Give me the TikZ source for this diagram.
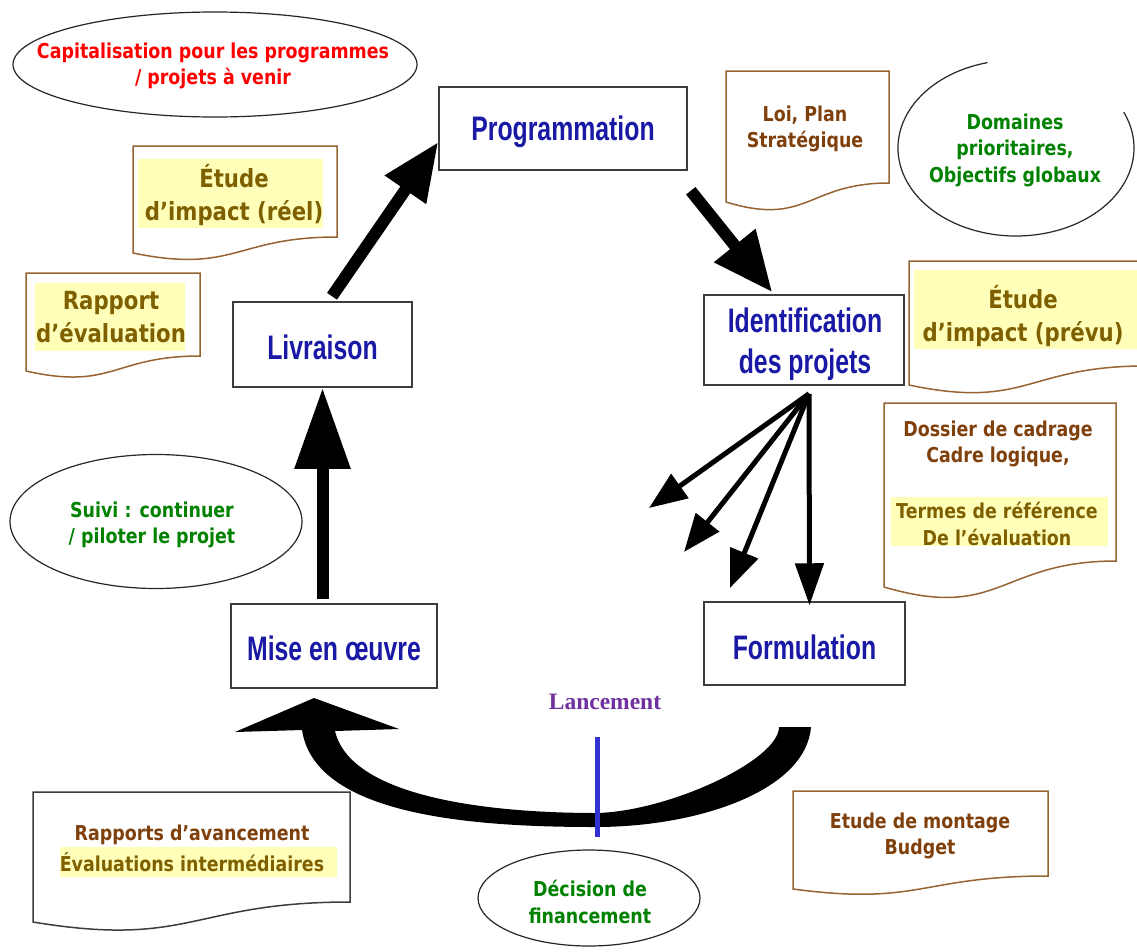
\documentclass[tikz,border=0pt]{standalone}
\usepackage{fontspec}
\usetikzlibrary{arrows.meta,calc}
\newfontfamily\tahf{DejaVu Sans}[FakeStretch=0.85]
\newfontfamily\narf{Liberation Sans}[FakeStretch=0.73]
\newfontfamily\serf{Liberation Serif}
\definecolor{navyt}{RGB}{25,25,165}
\definecolor{olivet}{RGB}{127,96,0}
\definecolor{rustt}{RGB}{128,64,12}
\definecolor{greent}{RGB}{0,130,0}
\definecolor{redt}{RGB}{255,0,0}
\definecolor{purplet}{RGB}{112,48,160}
\definecolor{bluel}{RGB}{50,50,210}
\definecolor{hilite}{RGB}{255,255,185}
\definecolor{docbrown}{RGB}{150,100,50}
\definecolor{boxgray}{RGB}{60,60,60}
\newcommand\docpath[6]{%
  \pgfmathsetmacro\dmid{(#1+#3)/2}%
  \pgfmathsetmacro\dctl{#5+1.31*(#5-#4)}%
  \draw[#6] (#1,#2) -- (#3,#2) -- (#3,#4) .. controls (\dmid,#4) and (\dmid,\dctl) .. (#1,#5) -- cycle;}
\tikzset{
  tah/.style={font=\tahf\bfseries\fontsize{20.5}{26.5}\selectfont, align=center, inner sep=0pt},
  tahbig/.style={font=\tahf\bfseries\fontsize{25}{33}\selectfont, align=center, inner sep=0pt},
  stage/.style={draw=boxgray, line width=1.5pt, fill=white, inner sep=0pt},
  stagetext/.style={text=navyt, align=center, inner sep=0pt,
    font=\narf\bfseries\fontsize{34}{41}\selectfont},
  docline/.style={draw=docbrown, line width=1.5pt, fill=white},
  docblack/.style={draw=boxgray, line width=1.5pt, fill=white},
  hl/.style={fill=hilite, draw=none},
  ell/.style={draw=black!85, line width=1.2pt},
  thick arrow/.style n args={2}{line width=12pt, draw=black, -{Triangle[length=#1,width=#2]}},
  fan arrow/.style={line width=5pt, draw=black, -{Triangle[length=38pt,width=29pt]}},
}
\begin{document}
\begin{tikzpicture}[x=1pt,y=-1pt]
\useasboundingbox (0,0) rectangle (1137,951);
\fill[white] (0,0) rectangle (1137,951);

% ---------- documents ----------
\docpath{133}{146}{337}{237}{253}{docline}
\fill[hl] (138,159) rectangle (323,228);
\node[tahbig, text=olivet] (etudereel) at (234,195) {Étude\\d’impact (réel)};

\docpath{26}{273}{200}{356}{371}{docline}
\fill[hl] (35,283) rectangle (185,351);
\node[tahbig, text=olivet] (rapeval) at (111,317) {Rapport\\d’évaluation};

\docpath{726}{71}{889}{183}{202}{docline}
\node[tah, text=rustt] (loi) at (805,129) {Loi, Plan\\Stratégique};

\docpath{909}{261}{1145}{366}{385}{docline}
\fill[hl] (914,270) rectangle (1137,349);
\node[tahbig, text=olivet] (etudeprevu) at (1023,316) {Étude\\d’impact (prévu)};

\docpath{884}{403}{1116}{561}{587}{docline}
\node[tah, text=rustt] (dossier) at (998,444) {Dossier de cadrage\\Cadre logique,};
\fill[hl] (891,497) rectangle (1108,546);
\node[tah, text=olivet] (termes) at (997,524) {Termes de référence\\De l’évaluation};

\docpath{33}{792}{350}{902}{922}{docblack}
\node[tah, text=rustt] (rapports) at (192,835) {Rapports d’avancement};
\fill[hl] (60,847) rectangle (337,877);
\node[tah, text=olivet] (evalint) at (192,862) {Évaluations intermédiaires};

\docpath{793}{791}{1048}{876}{889}{docline}
\node[tah, text=rustt] (montage) at (920,836) {Etude de montage\\Budget};

% ---------- ellipses ----------
\draw[ell] (215,64.5) ellipse [x radius=202, y radius=52.5];
\node[tah, text=redt] (capital) at (213,66) {Capitalisation pour les programmes\\/ projets à venir};

\draw[ell] (987.45,62.61) arc[start angle=-104, end angle=-384, x radius=118, y radius=88];
\node[tah, text=greent] (domaines) at (1015,150) {Domaines\\prioritaires,\\Objectifs globaux};

\draw[ell] (156,521.5) ellipse [x radius=146, y radius=67];
\node[tah, text=greent] (suivi) at (152,525) {Suivi : continuer\\/ piloter le projet};

\draw[ell] (589,898) ellipse [x radius=111, y radius=48];
\node[tah, text=greent] (decision) at (590,902) {Décision de\\financement};

% ---------- stage boxes ----------
\node[stage, minimum width=248pt, minimum height=83pt] (prog) at (563,128.5) {};
\node[stagetext] (progt) at ($(prog)+(0,3)$) {Programmation};
\node[stage, minimum width=200pt, minimum height=90pt] (ident) at (804,340) {};
\node[stagetext] (identt) at ($(ident)+(1,4)$) {Identification\\des projets};
\node[stage, minimum width=201pt, minimum height=83pt] (form) at (804.5,643.5) {};
\node[stagetext] (formt) at ($(form)+(0,3.5)$) {Formulation};
\node[stage, minimum width=206pt, minimum height=84pt] (mise) at (334,646) {};
\node[stagetext] (miset) at ($(mise)+(0,2.5)$) {Mise en œuvre};
\node[stage, minimum width=179pt, minimum height=85pt] (livr) at (322.5,344.5) {};
\node[stagetext] (livrt) at ($(livr)+(0,3)$) {Livraison};

% ---------- arrows ----------
\draw[thick arrow={81pt}{53pt}] ($(livr.south |- mise.north)+(0,-4)$) -- (livr.south);
\draw[thick arrow={58pt}{47pt}] ($(livr.north)+(9.5,-5)$) -- ($(prog.south west)!0.34!(prog.north west)$);
\draw[thick arrow={60pt}{50pt}] ($(prog.south east)+(3,20)$) -- ($(ident.north west)+(69,-2)$);

\coordinate (fo) at ($(ident.south)+(5,8)$);
\coordinate (f1) at (649,508);
\coordinate (f2) at (684,552);
\coordinate (f3) at (730,588);
\draw[fan arrow] (fo) -- (f1);
\draw[fan arrow] (fo) -- (f2);
\draw[fan arrow] (fo) -- (f3);
\draw[line width=5pt, -{Triangle[length=42pt,width=28pt]}] (fo) -- ($(form.north)+(5,4)$);

% ---------- curved arrow Formulation -> Mise en oeuvre ----------
\fill[black] (811,727) .. controls (806,790) and (700,827) .. (595,827)
  .. controls (470,827) and (315,815) .. (302,730)
  -- (235,732) -- (314,698) -- (399,729) -- (335,731)
  .. controls (350,795) and (480,813) .. (597,813)
  .. controls (670,811) and (779,760) .. (779,727) -- cycle;

% ---------- Lancement ----------
\node[font=\serf\bfseries\fontsize{23.5}{28}\selectfont, text=purplet, inner sep=0pt] (lanc) at (605,702) {Lancement};
\draw[bluel, line width=5pt] ($(decision.north |- lanc.south)+(7,27)$) -- ($(decision.north |- lanc.south)+(7,127)$);

\end{tikzpicture}
\end{document}
